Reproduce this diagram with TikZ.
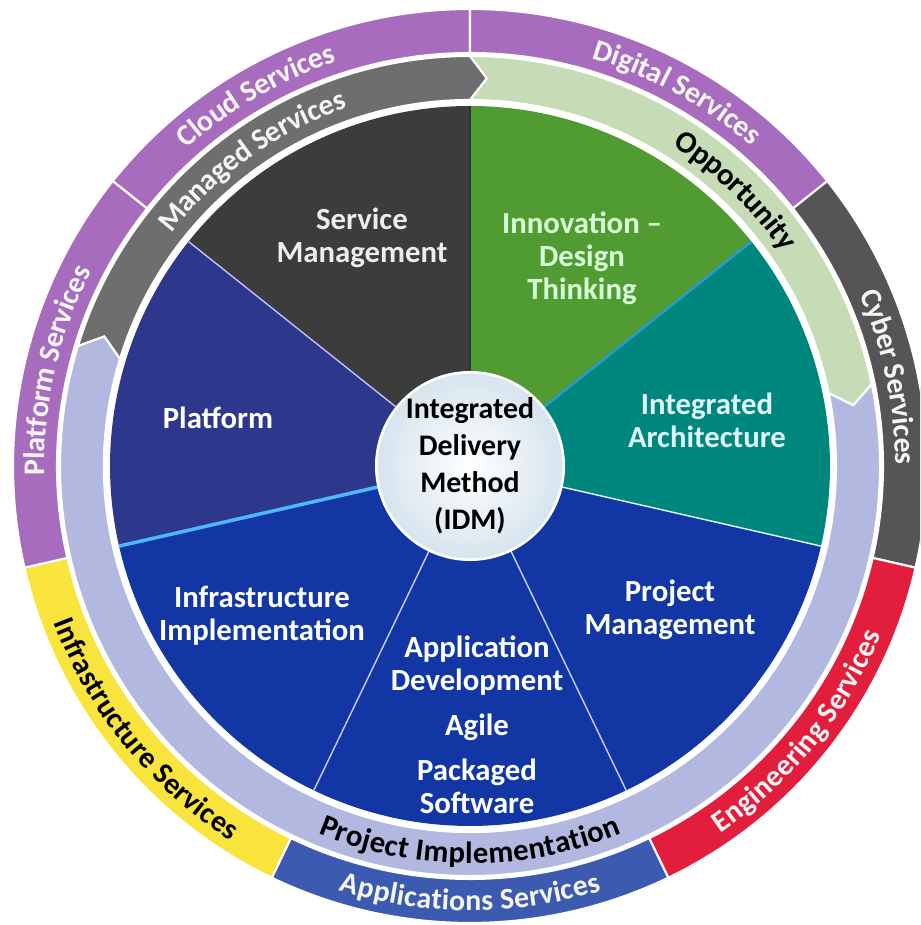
\documentclass[tikz,border=0pt]{standalone}
\usepackage{fontspec}
\setmainfont{Carlito}
\usetikzlibrary{decorations.text}

% wedge colours
\definecolor{servicegrey}{RGB}{60,60,60}
\definecolor{innovgreen}{RGB}{80,155,50}
\definecolor{archteal}{RGB}{0,135,125}
\definecolor{idmblue}{RGB}{18,55,165}
\definecolor{platformnavy}{RGB}{45,55,140}
% band and ring colours
\definecolor{bandgrey}{RGB}{110,110,110}
\definecolor{bandgreen}{RGB}{198,220,182}
\definecolor{bandlilac}{RGB}{178,184,224}
\definecolor{ringpurple}{RGB}{168,108,190}
\definecolor{ringgrey}{RGB}{85,85,85}
\definecolor{ringred}{RGB}{226,30,60}
\definecolor{ringblue}{RGB}{60,90,175}
\definecolor{ringyellow}{RGB}{248,228,60}
\definecolor{hubblue}{RGB}{214,228,238}

\newcommand{\wedgefont}{\fontsize{17.5}{18.7}\selectfont\bfseries}
\newcommand{\hubfont}{\fontsize{17}{21}\selectfont\bfseries}
\newcommand{\ringfont}{\fontsize{17}{20}\selectfont\bfseries}
\newcommand{\bandfont}{\fontsize{17.5}{20}\selectfont\bfseries}

\tikzset{
  spoke/.style={draw=white!80!blue, line width=0.8pt},
  seg/.style={draw=white, line width=1.2pt},
  wedgetext/.style={text=white, align=center, font=\wedgefont},
  hub/.style={circle, minimum size=3.68cm, inner sep=0pt, draw=white, line width=1.5pt,
    inner color=white, outer color=hubblue, align=center, font=\hubfont},
  whitearc/.style={decorate, decoration={text along path, text align=center,
    raise=-0.19cm, text color=white!96!black, text={|\ringfont|#1}}},
  blackarc/.style={decorate, decoration={text along path, text align=center,
    raise=-0.19cm, text color=black, text={|\ringfont|#1}}},
  boldarc/.style={decorate, decoration={text along path, text align=center,
    raise=-0.19cm, text color=black, text={|\bandfont|#1}}},
}

\begin{document}
\begin{tikzpicture}[x=0.02cm, y=0.02cm]
  \clip (-470,-459) rectangle (450,466);

  % the seven wedges
  \fill [servicegrey] (0,0) -- (90:360) arc[start angle=90, end angle=141.43, radius=360] -- cycle;
  \fill [innovgreen] (0,0) -- (38.57:360) arc[start angle=38.57, end angle=90, radius=360] -- cycle;
  \fill [archteal] (0,0) -- (-12.86:360) arc[start angle=-12.86, end angle=38.57, radius=360] -- cycle;
  \fill [idmblue] (0,0) -- (-115.71:360) arc[start angle=-115.71, end angle=-12.86, radius=360] -- cycle;
  \fill [idmblue] (0,0) -- (192.86:360) arc[start angle=192.86, end angle=244.29, radius=360] -- cycle;
  \fill [platformnavy] (0,0) -- (141.43:360) arc[start angle=141.43, end angle=192.86, radius=360] -- cycle;

  % spokes between wedges
  \draw [spoke, draw=black!80] (0,0) -- (90:360);
  \draw [spoke, draw=cyan!60!teal, line width=1.5pt] (0,0) -- (38.57:360);
  \draw [spoke, draw=white!90!cyan] (0,0) -- (-12.86:360);
  \draw [spoke] (0,0) -- (-64.29:360);
  \draw [spoke] (0,0) -- (-115.71:360);
  \draw [spoke, draw=blue!40!cyan!70!white, line width=2pt] (0,0) -- (192.86:360);
  \draw [spoke, draw=white!75!blue] (0,0) -- (141.43:360);

  % middle band: three arrows running clockwise
  \path [seg, fill=bandgrey] (163:410) arc[start angle=163, end angle=90, radius=410] -- (87.5:388)
    -- (90:366) arc[start angle=90, end angle=163, radius=366] -- (160.5:388) -- cycle;
  \path [seg, fill=bandgreen] (90:410) arc[start angle=90, end angle=11.5, radius=410] -- (9:388)
    -- (11.5:366) arc[start angle=11.5, end angle=90, radius=366] -- (87.5:388) -- cycle;
  \path [seg, fill=bandlilac] (11.5:410) arc[start angle=11.5, end angle=-197, radius=410] -- (-199.5:388)
    -- (-197:366) arc[start angle=-197, end angle=11.5, radius=366] -- (9:388) -- cycle;

  % outer ring of services
  \path [seg, fill=ringpurple] (90:457) arc[start angle=90, end angle=141.43, radius=457]
    -- (141.43:413) arc[start angle=141.43, end angle=90, radius=413] -- cycle;
  \path [seg, fill=ringpurple] (38.57:457) arc[start angle=38.57, end angle=90, radius=457]
    -- (90:413) arc[start angle=90, end angle=38.57, radius=413] -- cycle;
  \path [seg, fill=ringgrey] (-12.86:457) arc[start angle=-12.86, end angle=38.57, radius=457]
    -- (38.57:413) arc[start angle=38.57, end angle=-12.86, radius=413] -- cycle;
  \path [seg, fill=ringred] (-64.29:457) arc[start angle=-64.29, end angle=-12.86, radius=457]
    -- (-12.86:413) arc[start angle=-12.86, end angle=-64.29, radius=413] -- cycle;
  \path [seg, fill=ringblue] (-115.71:457) arc[start angle=-115.71, end angle=-64.29, radius=457]
    -- (-64.29:413) arc[start angle=-64.29, end angle=-115.71, radius=413] -- cycle;
  \path [seg, fill=ringyellow] (192.86:457) arc[start angle=192.86, end angle=244.29, radius=457]
    -- (244.29:413) arc[start angle=244.29, end angle=192.86, radius=413] -- cycle;
  \path [seg, fill=ringpurple] (141.43:457) arc[start angle=141.43, end angle=192.86, radius=457]
    -- (192.86:413) arc[start angle=192.86, end angle=141.43, radius=413] -- cycle;

  % ring texts
  \path [whitearc={Cloud Services}] (141:435) arc[start angle=141, end angle=99, radius=435];
  \path [whitearc={Digital Services}] (86:435) arc[start angle=86, end angle=36, radius=435];
  \path [whitearc={Cyber Services}] (37:435) arc[start angle=37, end angle=-13, radius=435];
  \path [whitearc={Engineering Services}] (-64:435) arc[start angle=-64, end angle=-14, radius=435];
  \path [whitearc={Applications Services}] (-115:435) arc[start angle=-115, end angle=-65, radius=435];
  \path [blackarc={Infrastructure Services}] (194:435) arc[start angle=194, end angle=244, radius=435];
  \path [whitearc={Platform Services}] (192:435) arc[start angle=192, end angle=142, radius=435];

  % band texts
  \path [whitearc={Managed Services}] (160:388) arc[start angle=160, end angle=91, radius=388];
  \path [boldarc={Opportunity}] (80:388) arc[start angle=80, end angle=12, radius=388];
  \path [boldarc={Project Implementation}] (-125:388) arc[start angle=-125, end angle=-55, radius=388];

  % wedge labels
  \node [wedgetext, text=white!93!black](svc) at (-108,228) {Service\\Management};
  \node [wedgetext, text=white!85!green](innov) at (112,208) {Innovation --\\Design\\Thinking};
  \node [wedgetext, text=white!88!cyan](arch) at (237,46) {Integrated\\Architecture};
  \node [wedgetext](pm) at (200,-144) {Project\\Management};
  \node [wedgetext](appdev) at (7,-259) {Application\\Development\\[0.24cm]Agile\\[0.24cm]Packaged\\Software};
  \node [wedgetext](infra) at (-208,-150) {Infrastructure\\Implementation};
  \node [wedgetext](plat) at (-252,48) {Platform};

  % hub
  \node [hub](idm) at (0,0) {Integrated\\Delivery\\Method\\(IDM)};
\end{tikzpicture}
\end{document}
